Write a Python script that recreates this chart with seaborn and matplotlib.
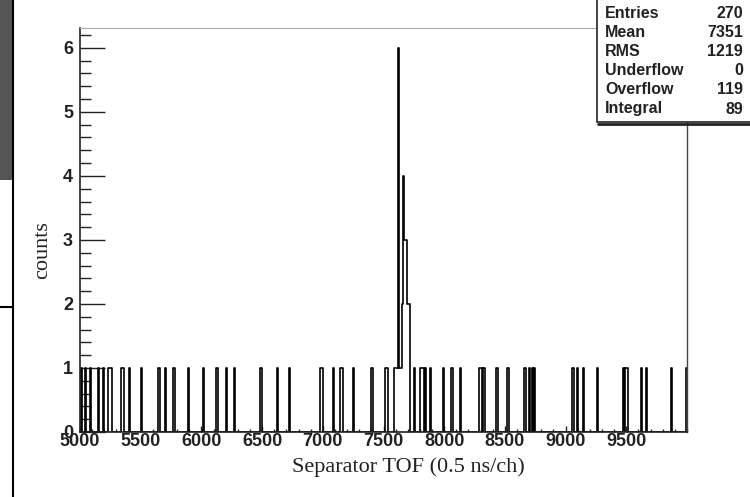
import numpy as np
import pandas as pd
import matplotlib
matplotlib.use("Agg")
import matplotlib.pyplot as plt
from matplotlib.patches import Rectangle
from matplotlib.lines import Line2D
import seaborn as sns

# single-count channels (bin start, 10-channel bins)
single_bins = [5010, 5040, 5080, 5150, 5190, 5230, 5240, 5250, 5340, 5350,
               5400, 5500, 5640, 5650, 5700, 5770, 5890, 6010, 6120, 6130,
               6200, 6270, 6480, 6490, 6620, 6720, 6980, 6990, 7080, 7140,
               7150, 7160, 7250, 7400, 7510, 7520, 7530,
               7750, 7800, 7810, 7820, 7840, 7880, 7990, 8060, 8130, 8290,
               8300, 8320, 8330, 8430, 8520, 8660, 8700, 8720, 8740, 9050,
               9060, 9090, 9140, 9260, 9470, 9490, 9500, 9620, 9660, 9870, 9990]

# peak region
peak_bins = [7590, 7600, 7610, 7620, 7630, 7640, 7650, 7660, 7670, 7680, 7690, 7700, 7710]
peak_counts = [1, 1, 1, 6, 1, 1, 2, 4, 3, 3, 2, 2, 2]

x_ticks = [5000, 5500, 6000, 6500, 7000, 7500, 8000, 8500, 9000, 9500]
y_ticks = [0, 1, 2, 3, 4, 5, 6]

stat_names = ["Entries", "Mean", "RMS", "Underflow", "Overflow", "Integral"]
stat_values = ["270", "7351", "1219", "0", "119", "89"]

df = pd.DataFrame({
    "tof": [b + 5 for b in single_bins] + [b + 5 for b in peak_bins],
    "n": [1] * len(single_bins) + peak_counts,
})

sns.set_style("ticks")
fig = plt.figure(figsize=(7.5, 4.97), dpi=100)
ax = fig.add_axes([80 / 750, 1 - 432 / 497, 607 / 750, 404 / 497])

sns.histplot(data=df, x="tof", weights="n", binwidth=10, binrange=(5000, 10000),
             element="step", fill=False, color="black", linewidth=1.2, ax=ax)

ax.set_xlim(5000, 10000)
ax.set_ylim(0, 6.31)
ax.set_xticks(x_ticks)
ax.set_xticks(np.arange(5000, 10001, 100), minor=True)
ax.set_yticks(y_ticks)
ax.set_yticks(np.arange(0, 6.3, 0.2), minor=True)
ax.tick_params(axis="both", which="major", direction="in", length=18, width=1, color="#222222")
ax.tick_params(axis="both", which="minor", direction="in", length=8, width=1, color="#222222")
ax.tick_params(axis="x", which="major", length=4)
ax.tick_params(axis="x", which="minor", length=2)
ax.tick_params(axis="x", pad=1)
ax.tick_params(axis="y", pad=5)
for lab in ax.get_xticklabels() + ax.get_yticklabels():
    lab.set_fontfamily("Liberation Sans")
    lab.set_fontweight("bold")
    lab.set_fontsize(13)
    lab.set_color("#222222")

ax.spines["left"].set_color("#222222")
ax.spines["bottom"].set_color("#222222")
ax.spines["left"].set_linewidth(1.2)
ax.spines["bottom"].set_linewidth(1.2)
ax.spines["top"].set_color("#aaaaaa")
ax.spines["right"].set_color("#444444")
ax.spines["top"].set_linewidth(0.8)
ax.spines["right"].set_linewidth(1.0)

ax.set_xlabel("Separator TOF (0.5 ns/ch)", fontfamily="Liberation Serif", fontsize=16,
              color="#222222")
ax.xaxis.set_label_coords((408 - 80) / 607, (432 - 457) / 404)
ax.set_ylabel("counts", fontfamily="Liberation Serif", fontsize=16, color="#222222")
ax.yaxis.set_label_coords((52 - 80) / 607, (432 - 250) / 404)

# stats box
box = Rectangle((597 / 750, 1 - 122 / 497), 160 / 750, 125 / 497, transform=fig.transFigure,
                facecolor="white", edgecolor="#222222", linewidth=1.2, zorder=5)
fig.patches.append(box)
fig.lines.append(Line2D([598 / 750, 1.0], [1 - 124 / 497, 1 - 124 / 497], transform=fig.transFigure,
                        color="#222222", linewidth=2, zorder=6))
for i, (name, val) in enumerate(zip(stat_names, stat_values)):
    yy = 1 - (13 + i * 19.2) / 497
    fig.text(605 / 750, yy, name, ha="left", va="center", fontfamily="Liberation Sans",
             fontweight="bold", fontsize=11.5, color="#222222", zorder=7)
    fig.text(743 / 750, yy, val, ha="right", va="center", fontfamily="Liberation Sans",
             fontweight="bold", fontsize=11.5, color="#222222", zorder=7)

# page decorations at left edge
fig.patches.append(Rectangle((0, 1 - 180 / 497), 13 / 750, 180 / 497, transform=fig.transFigure,
                             facecolor="#555555", edgecolor="none", zorder=5))
fig.lines.append(Line2D([13.5 / 750, 13.5 / 750], [0, 1], transform=fig.transFigure,
                        color="black", linewidth=1.5, zorder=6))
fig.lines.append(Line2D([0, 13.5 / 750], [1 - 307 / 497, 1 - 307 / 497], transform=fig.transFigure,
                        color="black", linewidth=1.5, zorder=6))

fig.savefig("out.png", dpi=100)
